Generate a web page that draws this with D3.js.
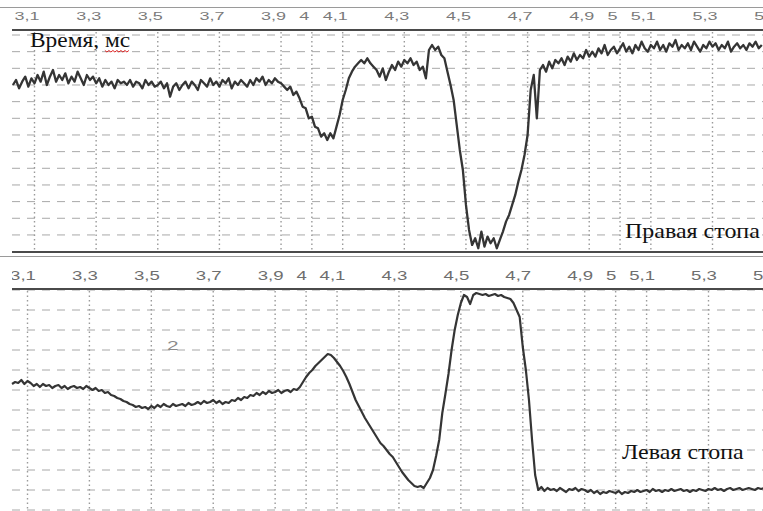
<!DOCTYPE html>
<html>
<head>
<meta charset="utf-8">
<script src="https://cdn.jsdelivr.net/npm/d3@7"></script>
<style>
  html, body { margin: 0; padding: 0; background: #fff; }
  svg { display: block; }
</style>
</head>
<body>
<svg id="chart" width="763" height="511"></svg>
<script>
// Time axis ticks (seconds) and their printed labels
const tickValues = [3.1, 3.3, 3.5, 3.7, 3.9, 4.0, 4.1, 4.3, 4.5, 4.7, 4.9, 5.0, 5.1, 5.3, 5.5];
const tickLabels = ["3,1", "3,3", "3,5", "3,7", "3,9", "4", "4,1", "4,3", "4,5", "4,7", "4,9", "5", "5,1", "5,3", "5,5"];

// Sampling of both recordings
const sampleStep = 0.01;
const rightStart = 3.03;
const leftStart = 3.05;

// Right foot signal, grid units, one sample every 0.01 s from 3.03 s
const rightFoot = [
  10.0, 10.3, 9.8, 10.2, 10.5, 9.9, 10.4,
  10.1, 10.6, 10.2, 10.8, 10.0, 10.5, 10.9, 10.2, 10.6, 10.3,
  10.7, 10.1, 10.5, 10.2, 10.8, 10.4, 10.0, 10.6, 10.3, 10.5,
  10.1, 10.4, 9.9, 10.3, 10.0, 10.2, 9.8, 10.3, 10.1, 10.2,
  10.0, 10.3, 9.9, 10.2, 10.1, 9.8, 10.3, 10.0, 10.2, 9.9,
  10.0, 10.2, 9.8, 10.1, 9.3, 9.9, 10.1, 9.7, 10.0, 10.2,
  9.8, 10.2, 10.0, 9.7, 10.3, 10.1, 9.9, 10.4, 10.0, 10.2,
  9.9, 10.3, 10.1, 10.4, 9.8, 10.2, 10.0, 10.3, 10.1, 9.9,
  10.3, 10.0, 10.4, 10.2, 10.5, 10.0, 10.3, 10.1, 10.4, 10.2,
  10.1, 9.9, 9.7, 9.9, 9.4, 9.6, 9.2, 8.7, 8.6, 8.0,
  8.1, 7.5, 7.4, 6.9, 7.1, 6.7, 7.1, 6.8, 7.5, 8.2,
  9.1, 9.7, 10.4, 10.8, 11.1, 11.3, 11.5, 11.3, 11.6, 11.3,
  11.1, 10.9, 10.5, 11.0, 10.3, 10.8, 11.2, 10.9, 11.4, 11.1,
  11.5, 11.3, 11.6, 11.2, 11.4, 10.9, 11.1, 10.4, 12.1, 12.4,
  12.1, 12.3, 11.8, 11.6, 10.8, 10.0, 9.1, 7.6, 6.1, 4.9,
  2.8, 1.3, 0.4, 0.8, 0.2, 1.2, 0.3, 0.9, 0.5, 0.8,
  0.2, 0.7, 1.2, 1.8, 2.2, 2.8, 3.4, 4.2, 4.9, 5.8,
  7.0, 9.7, 10.6, 8.0, 10.9, 11.2, 10.8, 11.4, 11.0, 11.5,
  11.3, 11.6, 11.2, 11.7, 11.4, 11.9, 11.5, 11.8, 11.6, 12.1,
  11.7, 12.0, 11.7, 12.2, 11.9, 12.4, 11.8, 12.1, 12.3, 11.9,
  12.2, 12.5, 12.0, 12.3, 11.9, 12.4, 12.1, 12.6, 12.2, 12.0,
  12.4, 12.2, 12.6, 12.1, 12.4, 12.0, 12.5, 12.3, 12.7, 12.1,
  12.4, 12.2, 12.5, 12.1, 12.6, 12.3, 12.0, 12.4, 12.2, 12.6,
  12.3, 12.5, 12.1, 12.4, 12.2, 12.6, 12.0, 12.3, 12.5, 12.2,
  12.4, 12.1, 12.5, 12.3, 12.6, 12.2, 12.4
];

// Left foot signal, grid units, one sample every 0.01 s from 3.05 s
const leftFoot = [
  6.3, 6.4, 6.35, 6.5, 6.3,
  6.45, 6.35, 6.2, 6.3, 6.15, 6.3, 6.2, 6.25, 6.1, 6.2,
  6.25, 6.1, 6.2, 6.05, 6.15, 6.2, 6.1, 6.15, 6.05, 6.2,
  6.1, 6.0, 6.1, 5.95, 6.0, 5.85, 5.9, 5.75, 5.7, 5.6,
  5.55, 5.45, 5.4, 5.3, 5.25, 5.15, 5.2, 5.1, 5.15, 5.05,
  5.2, 5.1, 5.25, 5.15, 5.3, 5.2, 5.15, 5.3, 5.2, 5.25,
  5.3, 5.2, 5.35, 5.25, 5.3, 5.4, 5.3, 5.45, 5.35, 5.4,
  5.5, 5.35, 5.45, 5.3, 5.4, 5.35, 5.5, 5.45, 5.6, 5.5,
  5.65, 5.6, 5.75, 5.7, 5.85, 5.75, 5.9, 5.8, 5.95, 5.85,
  5.9, 6.0, 5.85, 5.95, 6.0, 5.9, 6.05, 6.0, 6.15, 6.4,
  6.65, 6.85, 7.0, 7.2, 7.35, 7.5, 7.65, 7.8, 7.75, 7.6,
  7.4, 7.2, 6.95, 6.65, 6.3, 5.9, 5.5, 5.2, 4.9, 4.6,
  4.35, 4.1, 3.85, 3.6, 3.35, 3.2, 3.0, 2.8, 2.65, 2.4,
  2.15, 1.9, 1.7, 1.5, 1.35, 1.2, 1.15, 1.2, 1.1, 1.35,
  1.6, 2.0, 2.7, 3.5, 4.85, 5.8, 6.8, 8.0, 9.0, 9.75,
  10.35, 10.75, 10.65, 10.3, 10.75, 10.85, 10.8, 10.75, 10.8, 10.7,
  10.75, 10.8, 10.7, 10.75, 10.65, 10.6, 10.55, 10.35, 10.0, 9.65,
  8.15, 7.0, 5.5, 3.5, 1.75, 1.0, 1.15, 0.95, 1.1, 1.0,
  1.05, 0.95, 1.1, 1.0, 0.9, 1.05, 1.0, 1.1, 0.95, 1.05,
  1.0, 0.9, 1.0, 0.85, 0.95, 0.8, 0.9, 0.85, 0.95, 0.9,
  0.85, 0.95, 0.8, 0.9, 0.85, 0.95, 0.9, 1.0, 0.9, 0.95,
  1.0, 0.9, 1.05, 0.95, 1.0, 0.9, 1.0, 0.95, 1.05, 0.95,
  1.0, 1.05, 0.95, 1.0, 0.9, 1.0, 0.95, 1.05, 1.0, 0.95,
  1.05, 1.0, 1.1, 1.0, 1.05, 0.95, 1.05, 1.1, 1.0, 1.05,
  1.1, 1.0, 1.05, 1.1, 1.05, 1.0, 1.1, 1.05, 1.1
];

// Captions
const timeCaption = "Время, мс";
const rightCaption = "Правая стопа";
const leftCaption = "Левая стопа";
const curveMark = "2";

const W = 763, H = 511;
const svg = d3.select("#chart");
const axisColor = "#4a4a4a";
const traceColor = "#353535";

// label rows start at the left edge of the plotting area
svg.append("defs").append("clipPath").attr("id", "labelClip")
  .append("rect").attr("x", 12).attr("y", -H).attr("width", W).attr("height", 2 * H);

function drawPanel(p) {
  const x = d3.scaleLinear().domain([3.1, 5.3]).range(p.xRange);
  const y = d3.scaleLinear().domain([0, p.rows]).range([p.yBottom, p.yTop]);
  const g = svg.append("g");

  // horizontal dashed grid
  g.append("g").selectAll("line")
    .data(d3.range(p.gridFrom, p.rows + 1))
    .join("line")
    .attr("x1", 12).attr("x2", W)
    .attr("y1", d => y(d)).attr("y2", d => y(d))
    .attr("stroke", "#a8a8a8").attr("stroke-width", 1)
    .attr("stroke-dasharray", "8,7");

  // vertical dotted grid at every labelled time
  g.append("g").selectAll("line")
    .data(tickValues)
    .join("line")
    .attr("x1", d => x(d)).attr("x2", d => x(d))
    .attr("y1", p.axisY + 2).attr("y2", p.panelBottom)
    .attr("stroke", "#9a9a9a").attr("stroke-width", 1.4)
    .attr("stroke-dasharray", "1.5,3");

  // time axis labels
  const axis = d3.axisTop(x)
    .tickValues(tickValues)
    .tickFormat((d, i) => tickLabels[i])
    .tickSize(0)
    .tickPadding(p.axisY - p.labelBaseline);
  const ag = g.append("g")
    .attr("transform", `translate(0,${p.axisY})`)
    .attr("clip-path", p.clipLabels ? "url(#labelClip)" : null)
    .call(axis);
  ag.select(".domain").remove();
  ag.selectAll("text")
    .attr("fill", p.labelColor)
    .attr("font-family", "'Liberation Sans', Arial, sans-serif")
    .attr("font-size", p.labelSize)
    .attr("transform", `translate(${p.labelShift},0) scale(${p.labelStretch},1)`);

  // heavy axis rule
  g.append("line")
    .attr("x1", 12).attr("x2", W)
    .attr("y1", p.axisY).attr("y2", p.axisY)
    .attr("stroke", axisColor).attr("stroke-width", 2.2);

  // signal trace
  const line = d3.line()
    .x((d, i) => x(p.start + i * sampleStep))
    .y(d => y(d));
  g.append("path")
    .datum(p.values)
    .attr("d", line)
    .attr("fill", "none")
    .attr("stroke", traceColor)
    .attr("stroke-width", p.traceWidth)
    .attr("stroke-linejoin", "round");

  return { x, y, g };
}

// thin rule above the first row of labels
svg.append("line").attr("x1", 0).attr("x2", W).attr("y1", 7.5).attr("y2", 7.5)
  .attr("stroke", "#9a9a9a").attr("stroke-width", 1);

const upperPanel = drawPanel({
  xRange: [34.5, 712.5], rows: 13, gridFrom: 1,
  yBottom: 251.6, yTop: 35, axisY: 30, panelBottom: 251,
  labelBaseline: 19.5, labelSize: 10, labelStretch: 1.8, labelShift: -8,
  labelColor: "#7a7a7a", clipLabels: false,
  start: rightStart, values: rightFoot, traceWidth: 2.3
});

// lower rule of the upper panel and upper rule of the lower panel
svg.append("line").attr("x1", 12).attr("x2", W).attr("y1", 252).attr("y2", 252)
  .attr("stroke", axisColor).attr("stroke-width", 2);
svg.append("line").attr("x1", 0).attr("x2", W).attr("y1", 256.5).attr("y2", 256.5)
  .attr("stroke", "#9a9a9a").attr("stroke-width", 1);

const lowerPanel = drawPanel({
  xRange: [27.5, 708.5], rows: 11, gridFrom: 0,
  yBottom: 510, yTop: 290, axisY: 289, panelBottom: H,
  labelBaseline: 280, labelSize: 12, labelStretch: 1.55, labelShift: -5,
  labelColor: "#6e6e6e", clipLabels: true,
  start: leftStart, values: leftFoot, traceWidth: 2.2
});

// captions
const serif = "'Liberation Serif', 'Times New Roman', serif";
const tc = svg.append("text")
  .attr("transform", "translate(30,47) scale(1.17,1)")
  .attr("font-family", serif).attr("font-size", 20).attr("fill", "#111")
  .text(timeCaption);

// wavy underline under the unit
const node = tc.node();
const uStart = timeCaption.indexOf("мс");
const ux0 = 30 + 1.17 * node.getStartPositionOfChar(uStart).x;
const ux1 = ux0 + 1.17 * node.getSubStringLength(uStart, 2);
const wave = d3.range(ux0, ux1 + 0.1, 2).map((v, i) => [v, 50.5 + (i % 2 ? 1.5 : 0)]);
svg.append("path").attr("d", d3.line()(wave))
  .attr("fill", "none").attr("stroke", "#d22").attr("stroke-width", 1);

svg.append("text")
  .attr("transform", "translate(625,238) scale(1.09,1)")
  .attr("font-family", serif).attr("font-size", 22).attr("fill", "#111")
  .text(rightCaption);

svg.append("text")
  .attr("transform", "translate(622,459) scale(1.09,1)")
  .attr("font-family", serif).attr("font-size", 22).attr("fill", "#111")
  .text(leftCaption);

svg.append("text")
  .attr("transform", "translate(167,350) scale(1.6,1)")
  .attr("font-family", "'Liberation Sans', Arial, sans-serif")
  .attr("font-size", 13).attr("fill", "#8a8a8a")
  .text(curveMark);
</script>
</body>
</html>
